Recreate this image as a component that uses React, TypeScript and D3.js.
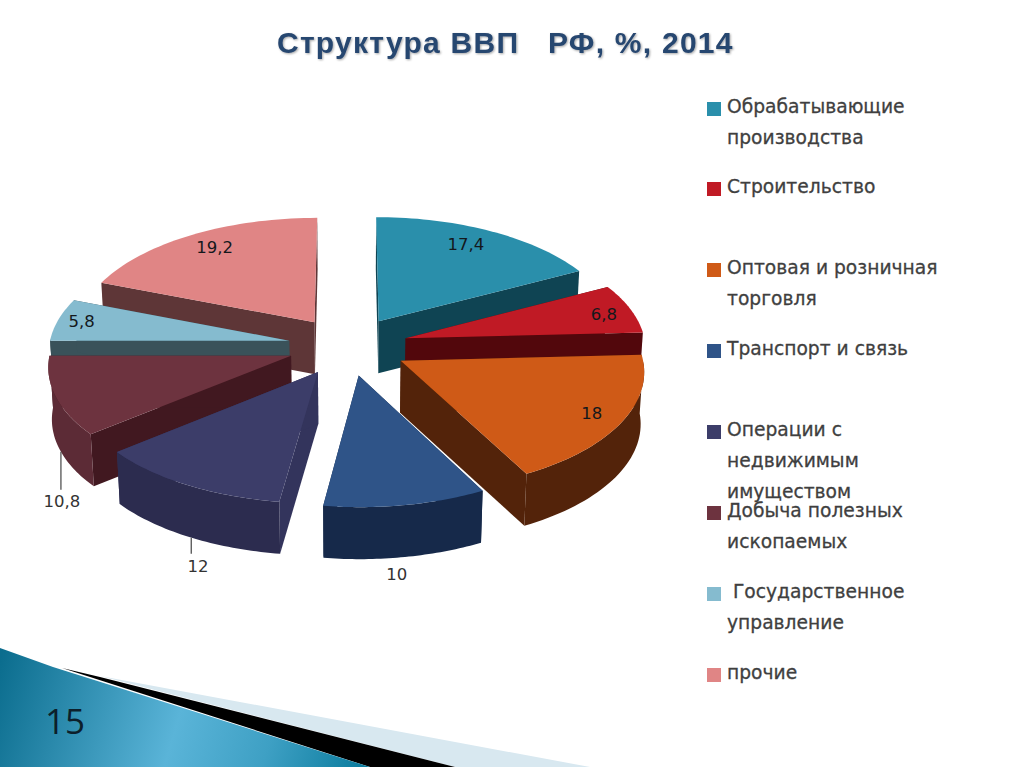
import React from 'react';
import * as d3 from 'd3';

const width = 1024;
const height = 767;

const titleText = 'Структура ВВП   РФ, %, 2014';

const categories = ['Обрабатывающие производства', 'Строительство', 'Оптовая и розничная торговля', 'Транспорт и связь', 'Операции с недвижимым имуществом', 'Добыча полезных ископаемых', 'Государственное управление', 'прочие'];
const values = [17.4, 6.8, 18, 10, 12, 10.8, 5.8, 19.2];
const valueLabels = ['17,4', '6,8', '18', '10', '12', '10,8', '5,8', '19,2'];

// top, cut face, outer wall
const topColors = ['#2a8fab', '#c01a25', '#cf5a17', '#2f5488', '#3c3d69', '#6d333f', '#85bbcf', '#e08585'];
const cutColors = ['#0f4453', '#52070c', '#53230a', '#16294a', '#33345c', '#411820', '#3a525a', '#5e3637'];
const wallColors = ['#0f4453', '#52070c', '#53230a', '#16294a', '#2c2c4f', '#5c2b36', '#3a525a', '#5e3637'];

const legendLines = [['Обрабатывающие', 'производства'], ['Строительство'], ['Оптовая и розничная', 'торговля'], ['Транспорт и связь'], ['Операции с', 'недвижимым', 'имуществом'], ['Добыча полезных', 'ископаемых'], [' Государственное', 'управление'], ['прочие']];
const legendTops = [116, 196, 277, 358, 439, 520, 601, 682];

// label placement: angle in degrees, radius as share of pie radius, on top (0) or at base (1)
const labelAngles = [29, 76, 119.4, 172.7, 202.7, 230.4, 281, 327];
const labelRadii = [0.828, 0.875, 0.867, 1.117, 1.166, 1.163, 0.9, 0.84];
const labelBase = [0, 0, 0, 1, 1, 1, 0, 0];

const cx = 348;
const cy = 346;
const radius = 240;
const explode = 60;
const tilt = 0.49;
const persp = 0.08;
const depth = 52;
const shrink = 0.012;
const rad = Math.PI / 180;

const pie = d3.pie<number>().sort(null).value(d => d);
const arcs = pie(values);
const line = d3.line<number[]>().x(d => d[0]).y(d => d[1]);

// world point (slice apex + polar offset) to screen, the base of the pie is a little narrower
const project = (mid: number, a: number, r: number, z = 0) => {
  const wx = explode * Math.sin(mid) + r * Math.sin(a);
  const wy = -explode * Math.cos(mid) - r * Math.cos(a);
  const s = 1 + persp * wy / radius;
  return [cx + wx * s * (1 - shrink * z / depth), cy + wy * tilt * s + z];
};

const slices = arcs.map((arc, i) => {
  const mid = (arc.startAngle + arc.endAngle) / 2;
  const steps = d3.range(0, 41).map(k => d3.interpolateNumber(arc.startAngle, arc.endAngle)(k / 40));
  const rim = steps.map(a => project(mid, a, radius));
  const apex = project(mid, 0, 0);
  const apexLow = project(mid, 0, 0, depth);
  const top = line([apex, ...rim])! + 'Z';
  const cut = (a: number) => line([apex, project(mid, a, radius), project(mid, a, radius, depth), apexLow])! + 'Z';
  const front = steps.filter(a => Math.cos(a) <= 0.02);
  const wall = front.length > 1
    ? line([...front.map(a => project(mid, a, radius)), ...front.slice().reverse().map(a => project(mid, a, radius, depth))])! + 'Z'
    : null;
  const labelPos = project(mid, labelAngles[i] * rad, labelRadii[i] * radius, labelBase[i] * depth);
  return { i, mid, top, cuts: [cut(arc.startAngle), cut(arc.endAngle)], wall, labelPos };
});

// back to front
const drawOrder = d3.range(slices.length).sort((a, b) => d3.descending(Math.cos(slices[a].mid), Math.cos(slices[b].mid)));

const leaderSlices = [{ i: 5, angle: 249, length: 38 }, { i: 4, angle: 209, length: 16 }];

const bottomTeal = [[0, 648], [53, 667], [370, 767], [0, 767]];
const bottomBlack = [[62, 668], [100, 677], [455, 767], [370, 767]];
const bottomPale = [[100, 676], [590, 767], [455, 767]];

export default function App() {
  return (
    <svg width={width} height={height} style={{ position: 'absolute', left: 0, top: 0, background: '#fff' }}>
      <defs>
        <linearGradient id="band" gradientUnits="userSpaceOnUse" x1="0" y1="660" x2="360" y2="767">
          <stop offset="0" stopColor="#0b6d8e" />
          <stop offset="0.5" stopColor="#5ab4d8" />
          <stop offset="0.75" stopColor="#3ea0c4" />
          <stop offset="1" stopColor="#0d7d9f" />
        </linearGradient>
        <filter id="soft" x="-5%" y="-20%" width="110%" height="140%">
          <feDropShadow dx="1" dy="1" stdDeviation="1" floodColor="#000" floodOpacity="0.35" />
        </filter>
      </defs>

      <path d={line(bottomPale)! + 'Z'} fill="#d8e8f0" />
      <path d={line(bottomBlack)! + 'Z'} fill="#000" />
      <path d={line(bottomTeal)! + 'Z'} fill="url(#band)" />
      <text x={45} y={734} fontFamily="'Open Sans'" fontSize={35} fill="#0c1f2b">15</text>

      <text x={277} y={53} fontFamily="'Liberation Sans'" fontWeight="bold" fontSize={30} letterSpacing={1.25} fill="#28466f" filter="url(#soft)" style={{ whiteSpace: 'pre' }}>{titleText}</text>

      {drawOrder.map(k => {
        const s = slices[k];
        return (
          <g key={categories[k]}>
            {s.cuts.map((d, j) => <path key={j} d={d} fill={cutColors[k]} />)}
            {s.wall && <path d={s.wall} fill={wallColors[k]} />}
            <path d={s.top} fill={topColors[k]} />
          </g>
        );
      })}

      {leaderSlices.map(l => {
        const p = project(slices[l.i].mid, l.angle * rad, radius, depth);
        return <line key={l.i} x1={p[0]} x2={p[0]} y1={p[1]} y2={p[1] + l.length} stroke="#444" strokeWidth={1.2} />;
      })}

      {slices.map(s => (
        <text key={s.i} x={s.labelPos[0]} y={s.labelPos[1]} dy="0.35em" textAnchor="middle" fontFamily="'DejaVu Sans'" fontSize={16.5} fill={labelBase[s.i] ? '#333' : '#14181c'}>{valueLabels[s.i]}</text>
      ))}

      {legendLines.map((lines, i) => (
        <g key={i}>
          <rect x={707} y={legendTops[i] - 14} width={14} height={14} fill={topColors[i]} />
          {lines.map((t, j) => (
            <text key={j} x={727} y={legendTops[i] - 3.5 + j * 31} fontFamily="'DejaVu Sans'" fontSize={18.7} fill="#3f3f3f" stroke="#3f3f3f" strokeWidth={0.3} style={{ whiteSpace: 'pre' }}>{t}</text>
          ))}
        </g>
      ))}
    </svg>
  );
}
